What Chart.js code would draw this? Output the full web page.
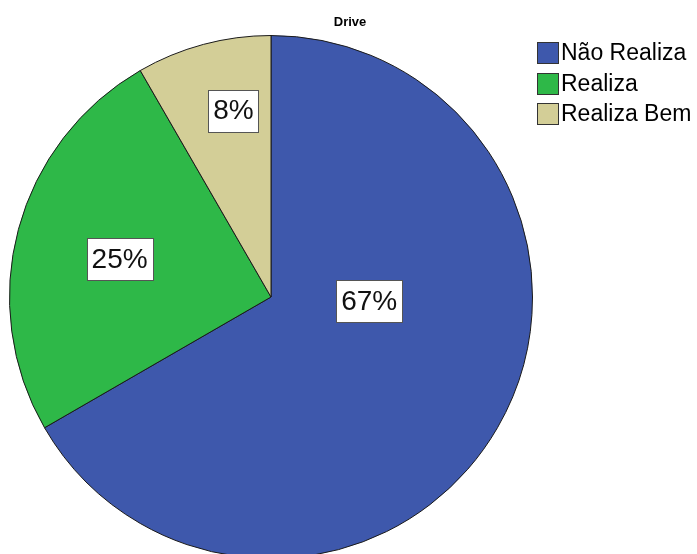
<!DOCTYPE html>
<html>
<head>
<meta charset="utf-8">
<script src="https://cdn.jsdelivr.net/npm/chart.js@4"></script>
<style>
  html, body { margin: 0; padding: 0; background: #fff; overflow: hidden; }
  #wrap { width: 697px; height: 559px; position: relative; }
</style>
</head>
<body>
<div id="wrap"><canvas id="pieChart"></canvas></div>
<script>
const chartTitle = 'Drive';
const categories = ['Não Realiza', 'Realiza', 'Realiza Bem'];
const counts = [8, 3, 1];
const sliceColors = ['#3E58AC', '#2EB848', '#D3CE97'];

// where each percent box sits inside its slice (share of the slice angle, share of the radius)
const labelAngleShare = [0.385, 0.49, 0.62];
const labelRadiusShare = [0.376, 0.597, 0.727];

const font = '"Liberation Sans", Arial, sans-serif';

/** draws the percent boxes, the title and the legend */
const spssLook = {
  id: 'spssLook',
  afterDatasetsDraw(chart) {
    const ctx = chart.ctx;
    const meta = chart.getDatasetMeta(0);
    const total = counts.reduce((a, b) => a + b, 0);

    ctx.save();
    ctx.font = '28px ' + font;
    ctx.textAlign = 'center';
    ctx.textBaseline = 'middle';
    meta.data.forEach((arc, i) => {
      const p = arc.getProps(['x', 'y', 'startAngle', 'endAngle', 'outerRadius'], true);
      const ang = p.startAngle + (p.endAngle - p.startAngle) * labelAngleShare[i];
      const r = p.outerRadius * labelRadiusShare[i];
      const cx = p.x + Math.cos(ang) * r;
      const cy = p.y + Math.sin(ang) * r;
      const text = Math.round(counts[i] / total * 100) + '%';
      const w = ctx.measureText(text).width + 10;
      const h = 42;
      ctx.fillStyle = '#fff';
      ctx.fillRect(Math.round(cx - w / 2) + 0.5, Math.round(cy - h / 2) + 0.5, Math.round(w), h);
      ctx.strokeStyle = '#555';
      ctx.lineWidth = 1;
      ctx.strokeRect(Math.round(cx - w / 2) + 0.5, Math.round(cy - h / 2) + 0.5, Math.round(w), h);
      ctx.fillStyle = '#111';
      ctx.fillText(text, cx, cy + 1);
    });

    // title
    ctx.font = 'bold 13px ' + font;
    ctx.fillStyle = '#000';
    ctx.fillText(chartTitle, 350, 22);

    // legend
    ctx.font = '23px ' + font;
    ctx.textAlign = 'left';
    categories.forEach((name, i) => {
      const y = Math.round(42 + i * 30.5);
      ctx.fillStyle = sliceColors[i];
      ctx.fillRect(537.5, y + 0.5, 21, 21);
      ctx.strokeStyle = '#333';
      ctx.strokeRect(537.5, y + 0.5, 21, 21);
      ctx.fillStyle = '#000';
      ctx.fillText(name, 561, y + 12);
    });
    ctx.restore();
  },
};

function ready(fn) {
  if (document.readyState !== 'loading') fn();
  else document.addEventListener('DOMContentLoaded', fn);
}

ready(() => {
  new Chart(document.getElementById('pieChart').getContext('2d'), {
    type: 'pie',
    data: {
      labels: categories,
      datasets: [{
        data: counts,
        backgroundColor: sliceColors,
        borderColor: '#1a1a1a',
        borderWidth: 1,
      }],
    },
    options: {
      responsive: true,
      maintainAspectRatio: false,
      animation: false,
      layout: { padding: { left: 9, right: 164, top: 35, bottom: 0 } },
      plugins: {
        legend: { display: false },
        title: { display: false },
        tooltip: { enabled: false },
      },
    },
    plugins: [spssLook],
  });
});
</script>
</body>
</html>
